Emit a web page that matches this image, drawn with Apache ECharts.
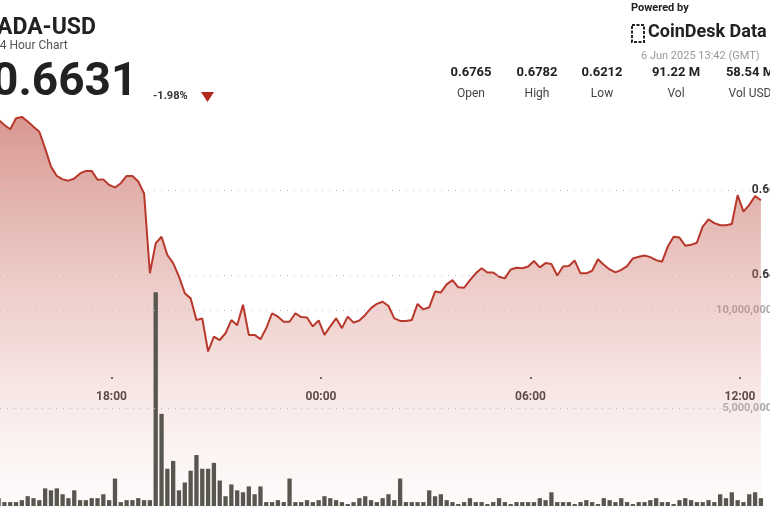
<!DOCTYPE html>
<html>
<head>
<meta charset="utf-8">
<script src="https://cdn.jsdelivr.net/npm/echarts@6/dist/echarts.min.js"></script>
<style>html,body{margin:0;padding:0;background:#fff}#chart{width:770px;height:508px}</style>
</head>
<body>
<div id="chart"></div>
<script>
// 10-minute samples, first one at 14:46 on 5 Jun (minutes since midnight)
var startMinute = 886;
var stepMinutes = 10;
var prices = [
  0.6765, 0.6753, 0.6743, 0.6769, 0.6772, 0.6761, 0.6749, 0.6737, 0.6698, 0.6655,
  0.6633, 0.6625, 0.6622, 0.6627, 0.6639, 0.6645, 0.6645, 0.6624, 0.6625, 0.6612,
  0.6606, 0.6616, 0.6633, 0.6633, 0.6620, 0.6592, 0.6404, 0.6475, 0.6490, 0.6447,
  0.6428, 0.6396, 0.6357, 0.6345, 0.6294, 0.6298, 0.6220, 0.6255, 0.6247, 0.6263,
  0.6294, 0.6282, 0.6330, 0.6259, 0.6259, 0.6249, 0.6275, 0.6310, 0.6302, 0.6290,
  0.6290, 0.6310, 0.6301, 0.6300, 0.6279, 0.6293, 0.6259, 0.6279, 0.6298, 0.6275,
  0.6302, 0.6288, 0.6293, 0.6306, 0.6322, 0.6332, 0.6337, 0.6327, 0.6298, 0.6292,
  0.6292, 0.6294, 0.6332, 0.6319, 0.6324, 0.6361, 0.6359, 0.6378, 0.6388, 0.6371,
  0.6370, 0.6388, 0.6404, 0.6416, 0.6406, 0.6406, 0.6396, 0.6392, 0.6413, 0.6417,
  0.6416, 0.6420, 0.6433, 0.6418, 0.6428, 0.6426, 0.6399, 0.6420, 0.6421, 0.6434,
  0.6404, 0.6404, 0.6410, 0.6437, 0.6424, 0.6413, 0.6406, 0.6412, 0.6421, 0.6439,
  0.6443, 0.6446, 0.6442, 0.6435, 0.6431, 0.6467, 0.6490, 0.6488, 0.6469, 0.6471,
  0.6476, 0.6514, 0.6531, 0.6522, 0.6517, 0.6517, 0.6520, 0.6588, 0.6549, 0.6565,
  0.6586, 0.6576
];
// volume in millions per 10 minutes
var volumes = [
  0.4, 0.2, 0.2, 0.2, 0.3, 0.5, 0.4, 0.3, 0.9, 0.8, 0.9, 0.6, 0.4, 0.8, 0.3, 0.3,
  0.4, 0.4, 0.6, 0.3, 1.4, 0.2, 0.3, 0.3, 0.4, 0.3, 0.3, 10.9, 4.7, 1.9, 2.3, 0.8,
  1.2, 1.8, 2.6, 1.9, 1.9, 2.2, 1.3, 0.5, 1.1, 0.8, 0.7, 1.0, 0.6, 1.0, 0.2, 0.2,
  0.3, 0.2, 1.4, 0.2, 0.2, 0.3, 0.2, 0.3, 0.5, 0.4, 0.3, 0.2, 0.1, 0.2, 0.4, 0.5,
  0.3, 0.2, 0.4, 0.6, 0.3, 1.4, 0.2, 0.2, 0.2, 0.2, 0.8, 0.5, 0.6, 0.3, 0.2, 0.1,
  0.2, 0.4, 0.2, 0.2, 0.1, 0.2, 0.4, 0.2, 0.1, 0.2, 0.2, 0.2, 0.2, 0.4, 0.3, 0.7,
  0.2, 0.2, 0.2, 0.1, 0.2, 0.3, 0.2, 0.1, 0.4, 0.3, 0.2, 0.4, 0.2, 0.1, 0.2, 0.2,
  0.3, 0.4, 0.2, 0.2, 0.1, 0.3, 0.4, 0.3, 0.2, 0.2, 0.3, 0.2, 0.6, 0.4, 0.7, 0.3,
  0.2, 0.6, 0.7, 0.4
];
var timeTicks = [1080, 1440, 1800, 2160];
var priceTicks = [0.64, 0.66];
var volumeTicks = [5000000, 10000000];
var statValues = ['0.6765', '0.6782', '0.6212', '91.22 M', '58.54 M'];
var statLabels = ['Open', 'High', 'Low', 'Vol', 'Vol USD'];
var statCenters = [471, 537, 602, 676, 750];

var priceData = prices.map(function (p, i) { return [startMinute + i * stepMinutes, p]; });
var volumeData = volumes.map(function (v, i) { return [startMinute + i * stepMinutes, v * 1000000]; });

function hhmm(v) {
  if (timeTicks.indexOf(v) < 0) return '';
  var h = Math.floor(v / 60) % 24;
  var m = Math.round(v % 60);
  return (h < 10 ? '0' : '') + h + ':' + (m < 10 ? '0' : '') + m;
}
function commas(v) { return String(v).replace(/\B(?=(\d{3})+(?!\d))/g, ','); }

var font = 'Roboto, "Noto Sans", sans-serif';
var xBase = { type: 'value', min: 720, max: 2246, interval: 360, show: false };

var graphics = [
  { type: 'text', left: -3, top: 17, style: { text: 'ADA-USD', font: 'bold 23px ' + font, fill: '#222' } },
  { type: 'text', left: -7, top: 40, style: { text: '24 Hour Chart', font: '12px ' + font, fill: '#555' } },
  { type: 'text', left: -8, top: 60, style: { text: '0.6631', font: 'bold 46px ' + font, fill: '#222' } },
  { type: 'text', left: 153, top: 91, style: { text: '-1.98%', font: 'bold 11px ' + font, fill: '#333' } },
  { type: 'polygon', shape: { points: [[201, 92], [214, 92], [207.5, 102]] }, style: { fill: '#b0281e' } },
  { type: 'text', left: 631, top: 3, style: { text: 'Powered by', font: 'bold 11px ' + font, fill: '#222' } },
  { type: 'rect', shape: { x: 632, y: 25, width: 12, height: 17 }, style: { fill: 'none', stroke: '#222', lineWidth: 2, lineDash: [3, 1.5] } },
  { type: 'text', left: 648, top: 23, style: { text: 'CoinDesk Data', font: 'bold 18px ' + font, fill: '#222' } },
  { type: 'text', left: 641, top: 51, style: { text: '6 Jun 2025 13:42 (GMT)', font: '11px ' + font, fill: '#999' } }
];
statValues.forEach(function (s, i) {
  graphics.push({ type: 'text', x: statCenters[i], y: 66, style: { text: s, font: 'bold 13px ' + font, fill: '#222', align: 'center' } });
  graphics.push({ type: 'text', x: statCenters[i], y: 88, style: { text: statLabels[i], font: '12px ' + font, fill: '#444', align: 'center' } });
});

var dotted = { color: '#bdbdbd', type: [1, 6], width: 1.2 };

var chart = echarts.init(document.getElementById('chart'));
chart.setOption({
  animation: false,
  graphic: graphics,
  grid: [
    { left: -98, right: -20, top: 105, bottom: -22, outerBoundsMode: 'none', containLabel: false },
    { left: -98, right: -20, top: 212, bottom: 2, outerBoundsMode: 'none', containLabel: false },
    { left: -98, right: -20, top: 0, bottom: 131, outerBoundsMode: 'none', containLabel: false }
  ],
  xAxis: [
    Object.assign({ gridIndex: 0 }, xBase),
    Object.assign({ gridIndex: 1 }, xBase),
    {
      gridIndex: 2, type: 'value', min: 720, max: 2246, interval: 360,
      axisLine: { show: false }, splitLine: { show: false },
      axisTick: { show: true, length: 2, lineStyle: { color: '#555', width: 2 } },
      axisLabel: { margin: 14, formatter: hhmm, showMaxLabel: false, fontFamily: font, fontWeight: 'bold', fontSize: 12, color: '#333' }
    }
  ],
  yAxis: [
    {
      gridIndex: 0, type: 'value', min: 0.58, max: 0.68, interval: 0.02, position: 'right',
      axisLine: { show: false }, axisTick: { show: false }, splitLine: { show: false },
      axisLabel: {
        inside: true, margin: 14, fontFamily: font, fontWeight: 'bold', fontSize: 12, color: '#333',
        formatter: function (v) { return priceTicks.indexOf(Math.round(v * 100) / 100) >= 0 ? v.toFixed(2) : ''; }
      }
    },
    {
      gridIndex: 1, type: 'value', min: 0, max: 15000000, interval: 5000000, position: 'right',
      axisLine: { show: false }, axisTick: { show: false }, splitLine: { show: false },
      axisLabel: {
        inside: true, margin: 18, verticalAlign: 'middle', fontFamily: font, fontWeight: 'bold', fontSize: 11, color: '#aaa',
        formatter: function (v) { return volumeTicks.indexOf(v) >= 0 ? commas(v) : ''; }
      }
    },
    { gridIndex: 2, type: 'value', show: false }
  ],
  series: [
    {
      type: 'line', xAxisIndex: 0, yAxisIndex: 0, data: priceData, symbol: 'none',
      lineStyle: { color: '#b8382c', width: 2 },
      areaStyle: {
        origin: 'start',
        color: new echarts.graphic.LinearGradient(0, 0, 0, 1, [
          { offset: 0, color: 'rgba(190,80,70,0.85)' },
          { offset: 0.55, color: 'rgba(215,140,130,0.45)' },
          { offset: 1, color: 'rgba(240,210,205,0.05)' }
        ])
      },
      markLine: {
        silent: true, symbol: 'none', label: { show: false }, lineStyle: dotted,
        data: priceTicks.map(function (t) { return { yAxis: t }; })
      },
      z: 2
    },
    {
      type: 'bar', xAxisIndex: 1, yAxisIndex: 1, data: volumeData, barWidth: 4.3,
      itemStyle: { color: '#57574f' },
      markLine: {
        silent: true, symbol: 'none', label: { show: false }, lineStyle: dotted,
        data: volumeTicks.map(function (t) { return { yAxis: t }; })
      },
      z: 3
    },
    { type: 'line', xAxisIndex: 2, yAxisIndex: 2, data: [] }
  ]
});
</script>
</body>
</html>
